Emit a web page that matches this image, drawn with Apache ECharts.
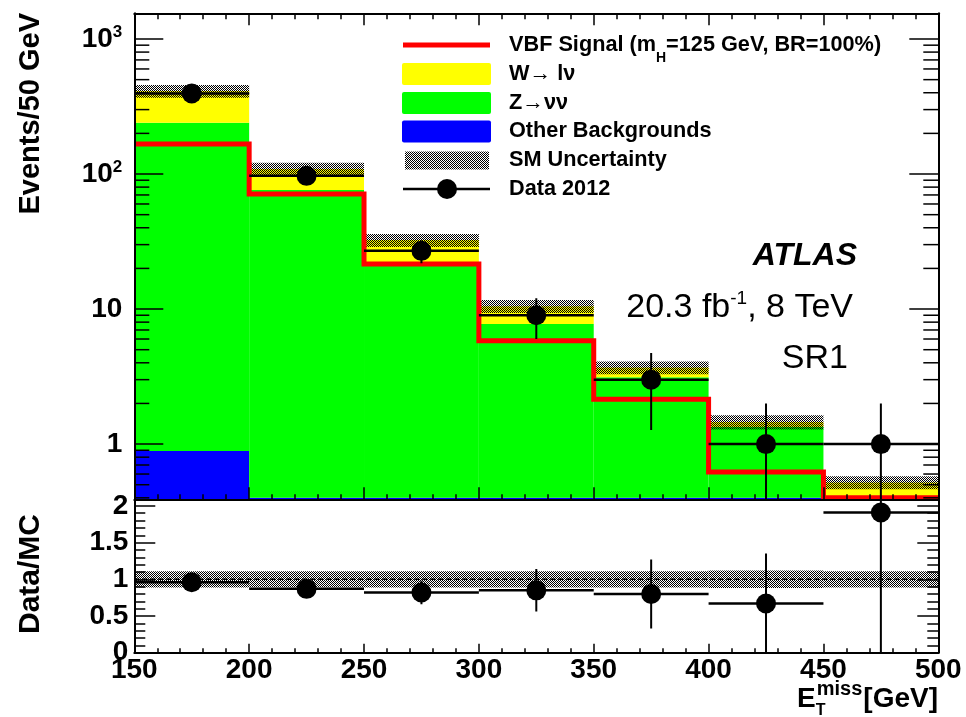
<!DOCTYPE html>
<html><head><meta charset="utf-8">
<script src="https://cdn.jsdelivr.net/npm/echarts@6/dist/echarts.min.js"></script>
<style>html,body{margin:0;padding:0;background:#fff}#c{width:966px;height:717px}</style>
</head><body><div id="c"></div>
<script>
// ---------------- data ----------------
const binEdges      = [150, 200, 250, 300, 350, 400, 450, 500];
const xTickLabels   = ['150', '200', '250', '300', '350', '400', '450', '500'];
const otherBkg      = [0.89, 0.40, 0.40, 0.40, 0.40, 0.40, 0.40];
const zNuNu         = [239, 75.6, 21.9, 7.34, 2.73, 0.94, 0.0];
const wLNu          = [172, 33, 10.1, 2.76, 0.56, 0.12, 0.12];
const smRelUnc      = [0.11, 0.11, 0.11, 0.11, 0.11, 0.12, 0.11];
const vbfSignal     = [167, 71, 21.6, 5.83, 2.15, 0.62, 0.40];
const data2012      = [395, 97, 27, 9, 3, 1, 1];
const data2012Err   = [20, 10, 5.2, 3, 1.73, 1, 1];
const ratioVals     = [0.96, 0.87, 0.82, 0.85, 0.80, 0.67, 1.91];
const ratioErr      = [0.05, 0.09, 0.16, 0.29, 0.47, 0.68, 1.91];
const ratioRelUnc   = [0.11, 0.11, 0.11, 0.11, 0.11, 0.12, 0.11];
const logMajorTicks = [1, 10, 100, 1000];
const logMajorLabels= ['1', '10', '10^2', '10^3'];
const logMinorMult  = [2, 3, 4, 5, 6, 7, 8, 9];
const logDecades    = [0.1, 1, 10, 100, 1000];
const ratioTicks    = [0, 0.5, 1, 1.5, 2];
const ratioTickLabels = ['0', '0.5', '1', '1.5', '2'];

const Y_MIN = 0.39, Y_MAX = 1550;
const R_MIN = 0, R_MAX = 2.09;
const FONT = "'Liberation Sans', Arial, Helvetica, sans-serif";

// ---------------- helpers ----------------
function hatchCanvas() {
  const c = document.createElement('canvas'); c.width = 2; c.height = 2;
  const g = c.getContext('2d'); g.fillStyle = '#000';
  g.fillRect(0, 0, 1, 1); g.fillRect(1, 1, 1, 1);
  return c;
}
const HATCH = { image: hatchCanvas(), repeat: 'repeat' };
const mctx = document.createElement('canvas').getContext('2d');
function tw(t, font) { mctx.font = font; return mctx.measureText(t).width; }

const nBins = binEdges.length - 1;
const stackBlue = [], stackGreen = [], stackYellow = [], hatchTop = [], hatchRatio = [];
const dataPts = [], ratioPts = [];
for (let i = 0; i < nBins; i++) {
  const x0 = binEdges[i], x1 = binEdges[i + 1];
  const b = otherBkg[i], g = b + zNuNu[i], t = g + wLNu[i];
  stackBlue.push([x0, x1, Y_MIN, b]);
  stackGreen.push([x0, x1, b, g]);
  stackYellow.push([x0, x1, g, t]);
  hatchTop.push([x0, x1, t * (1 - smRelUnc[i]), t * (1 + smRelUnc[i])]);
  hatchRatio.push([x0, x1, 1 - ratioRelUnc[i], 1 + ratioRelUnc[i]]);
  const xc = (x0 + x1) / 2;
  dataPts.push([xc, data2012[i], data2012Err[i], x0, x1]);
  ratioPts.push([xc, ratioVals[i], ratioErr[i], x0, x1]);
}
const signalSteps = [];
for (let i = 0; i < nBins; i++) signalSteps.push([binEdges[i], vbfSignal[i]]);
signalSteps.push([binEdges[nBins], vbfSignal[nBins - 1]]);

const logMinor = [];
logDecades.forEach(d => logMinorMult.forEach(m => { const v = d * m; if (v > Y_MIN && v < Y_MAX) logMinor.push([150, v]); }));

function rectRender(fill) {
  return function (params, api) {
    const x0 = api.value(0), x1 = api.value(1), lo = api.value(2), hi = api.value(3);
    if (!(hi > lo)) return null;
    const a = api.coord([x0, hi]), b = api.coord([x1, lo]);
    return { type: 'rect', shape: { x: a[0], y: a[1], width: b[0] - a[0], height: b[1] - a[1] }, style: { fill: fill } };
  };
}
function pointRender(isLog, yFloor) {
  return function (params, api) {
    const xc = api.value(0), v = api.value(1), e = api.value(2), x0 = api.value(3), x1 = api.value(4);
    let lo = v - e; if (lo <= 0 && isLog) lo = yFloor;
    const pc = api.coord([xc, v]), pl = api.coord([x0, v]), pr = api.coord([x1, v]);
    const pt = api.coord([xc, v + e]), pb = api.coord([xc, lo]);
    const ls = { stroke: '#000', lineWidth: 2.5 };
    return { type: 'group', children: [
      { type: 'line', shape: { x1: pl[0], y1: pl[1], x2: pr[0], y2: pr[1] }, style: ls },
      { type: 'line', shape: { x1: pt[0], y1: pt[1], x2: pb[0], y2: pb[1] }, style: { stroke: '#000', lineWidth: 2 } },
      { type: 'circle', shape: { cx: pc[0], cy: pc[1], r: 10 }, style: { fill: '#000' } }
    ] };
  };
}
function minorLogRender(params, api) {
  const v = api.value(1);
  const l = api.coord([150, v]), r = api.coord([500, v]);
  const st = { stroke: '#000', lineWidth: 1.5 };
  return { type: 'group', children: [
    { type: 'line', shape: { x1: l[0], y1: l[1], x2: l[0] + 15, y2: l[1] }, style: st },
    { type: 'line', shape: { x1: r[0] - 15, y1: r[1], x2: r[0], y2: r[1] }, style: st }
  ] };
}

// ---------------- axes ----------------
const tickLine = { color: '#000', width: 1.5 };
const frameLine = { show: true, lineStyle: { color: '#000', width: 2 } };
function xAx(grid, pos, labels, major, minor) {
  return {
    type: 'value', gridIndex: grid, position: pos, min: 150, max: 500, interval: 50, z: 10,
    axisLine: frameLine, splitLine: { show: false },
    axisTick: { show: true, inside: true, length: major, lineStyle: tickLine },
    minorTick: { show: true, splitNumber: 5, length: minor, lineStyle: tickLine },
    axisLabel: labels ? {
      show: true, margin: 4, color: '#000', fontFamily: FONT, fontWeight: 'bold', fontSize: 28, lineHeight: 28,
      formatter: v => { const k = binEdges.findIndex(e => Math.abs(e - v) < 1e-6); return k >= 0 ? xTickLabels[k] : ''; }
    } : { show: false }
  };
}
function logAx(pos, labels) {
  return {
    type: 'log', logBase: 10, gridIndex: 0, position: pos, min: Y_MIN, max: Y_MAX, z: 10,
    axisLine: frameLine, splitLine: { show: false },
    axisTick: { show: true, inside: true, length: 29, lineStyle: tickLine },
    minorTick: { show: false },
    axisLabel: labels ? {
      show: true, margin: 12, color: '#000', showMinLabel: false, showMaxLabel: false,
      formatter: v => {
        const k = logMajorTicks.findIndex(t => Math.abs(Math.log10(v) - Math.log10(t)) < 1e-6);
        if (k < 0) return '';
        const s = logMajorLabels[k].split('^');
        return s.length > 1 ? '{b|' + s[0] + '}{s|' + s[1] + '}' : '{b|' + s[0] + '}';
      },
      rich: {
        b: { fontFamily: FONT, fontWeight: 'bold', fontSize: 28, lineHeight: 30, color: '#000' },
        s: { fontFamily: FONT, fontWeight: 'bold', fontSize: 17, lineHeight: 20, verticalAlign: 'top', color: '#000' }
      }
    } : { show: false }
  };
}
function ratioAx(pos, labels) {
  return {
    type: 'value', gridIndex: 1, position: pos, min: R_MIN, max: R_MAX, interval: 0.5, z: 10,
    axisLine: frameLine, splitLine: { show: false },
    axisTick: { show: true, inside: true, length: 21, lineStyle: tickLine },
    minorTick: { show: true, splitNumber: 5, length: 11, lineStyle: tickLine },
    axisLabel: labels ? {
      show: true, margin: 6, color: '#000', fontFamily: FONT, fontWeight: 'bold', fontSize: 28, lineHeight: 28,
      showMaxLabel: false,
      formatter: v => { const k = ratioTicks.findIndex(t => Math.abs(t - v) < 1e-6); return k >= 0 ? ratioTickLabels[k] : ''; }
    } : { show: false }
  };
}

// ---------------- graphics (legend & texts) ----------------
const legX0 = 403, legX1 = 490, legTx = 509;
const rowsY = [45, 74, 103, 131.5, 160.5, 189];
const LF = 'bold 21.7px ' + FONT;
function txt(x, y, text, font, align, extra) {
  return Object.assign({ type: 'text', x: x, y: y, silent: true,
    style: { text: text, font: font, fill: '#000', textAlign: align || 'left', textVerticalAlign: 'middle' } }, extra || {});
}
const graphics = [];
// legend symbols
graphics.push({ type: 'line', shape: { x1: legX0, y1: rowsY[0], x2: legX1, y2: rowsY[0] }, style: { stroke: '#ff0000', lineWidth: 5 } });
graphics.push({ type: 'rect', shape: { x: 402, y: rowsY[1] - 11, width: 89, height: 22, r: 2 }, style: { fill: '#ffff00' } });
graphics.push({ type: 'rect', shape: { x: 402, y: rowsY[2] - 11, width: 89, height: 22, r: 2 }, style: { fill: '#00ff00' } });
graphics.push({ type: 'rect', shape: { x: 402, y: rowsY[3] - 11, width: 89, height: 22, r: 2 }, style: { fill: '#0000ff' } });
graphics.push({ type: 'rect', shape: { x: 405, y: rowsY[4] - 9, width: 84, height: 18 }, style: { fill: HATCH } });
graphics.push({ type: 'line', shape: { x1: legX0, y1: rowsY[5], x2: legX1, y2: rowsY[5] }, style: { stroke: '#000', lineWidth: 2.5 } });
graphics.push({ type: 'circle', shape: { cx: 447, cy: rowsY[5], r: 10 }, style: { fill: '#000' } });
// legend texts
const t1a = 'VBF Signal (m', t1b = 'H', t1c = '=125 GeV, BR=100%)';
const SF = 'bold 14px ' + FONT;
const w1a = tw(t1a, LF), w1b = tw(t1b, SF);
graphics.push(txt(legTx, rowsY[0], t1a, LF));
graphics.push(txt(legTx + w1a, rowsY[0] + 13, t1b, SF));
graphics.push(txt(legTx + w1a + w1b, rowsY[0], t1c, LF));
graphics.push(txt(legTx, rowsY[1], 'W\u2192 l\u03bd', LF));
graphics.push(txt(legTx, rowsY[2], 'Z\u2192\u03bd\u03bd', LF));
graphics.push(txt(legTx, rowsY[3], 'Other Backgrounds', LF));
graphics.push(txt(legTx, rowsY[4], 'SM Uncertainty', LF));
graphics.push(txt(legTx, rowsY[5], 'Data 2012', LF));
// ATLAS labels
graphics.push(txt(857, 256, 'ATLAS', 'italic bold 32px ' + FONT, 'right'));
const BF = '34px ' + FONT, SUPF = '19px ' + FONT;
const lumA = '20.3 fb', lumB = '-1', lumC = ', 8 TeV';
const wA = tw(lumA, BF), wB = tw(lumB, SUPF), wC = tw(lumC, BF);
const lx = 853 - (wA + wB + wC);
graphics.push(txt(lx, 307.5, lumA, BF));
graphics.push(txt(lx + wA, 299, lumB, SUPF));
graphics.push(txt(lx + wA + wB, 307.5, lumC, BF));
graphics.push(txt(848, 359, 'SR1', BF, 'right'));
// axis titles
graphics.push({ type: 'text', x: 31, y: 13, rotation: Math.PI / 2, silent: true,
  style: { text: 'Events/50 GeV', font: 'bold 29px ' + FONT, fill: '#000', textAlign: 'right', textVerticalAlign: 'middle' } });
graphics.push({ type: 'text', x: 31, y: 514, rotation: Math.PI / 2, silent: true,
  style: { text: 'Data/MC', font: 'bold 30px ' + FONT, fill: '#000', textAlign: 'right', textVerticalAlign: 'middle' } });
// x-axis title  E_T^miss [GeV]
const XF = 'bold 28px ' + FONT;
const wG = tw('[GeV]', XF);
const gx = 938 - wG;
graphics.push(txt(938, 699, '[GeV]', XF, 'right'));
graphics.push(txt(gx - 1, 689, 'miss', 'bold 20px ' + FONT, 'right'));
const wMiss = tw('miss', 'bold 20px ' + FONT);
graphics.push(txt(gx - 1 - wMiss - 1, 711, 'T', 'bold 16px ' + FONT, 'left'));
graphics.push(txt(gx - 1 - wMiss - 1, 699, 'E', XF, 'right'));

// ---------------- chart ----------------
const chart = echarts.init(document.getElementById('c'), null, { renderer: 'canvas' });
chart.setOption({
  animation: false,
  backgroundColor: '#fff',
  grid: [
    { left: 134.3, right: 27.7, top: 13.3, height: 486, outerBoundsMode: 'none', containLabel: false },
    { left: 134.3, right: 27.7, top: 499.3, height: 153.4, outerBoundsMode: 'none', containLabel: false }
  ],
  xAxis: [xAx(0, 'bottom', false, 12, 5), xAx(0, 'top', false, 12, 6), xAx(1, 'bottom', true, 9, 4.5)],
  yAxis: [logAx('left', true), logAx('right', false), ratioAx('left', true), ratioAx('right', false)],
  series: [
    { name: 'Other Backgrounds', type: 'custom', xAxisIndex: 0, yAxisIndex: 0, clip: true, z: 2, silent: true,
      encode: { x: [0, 1], y: [2, 3] }, data: stackBlue, renderItem: rectRender('#0000ff') },
    { name: 'Z\u2192\u03bd\u03bd', type: 'custom', xAxisIndex: 0, yAxisIndex: 0, clip: true, z: 2, silent: true,
      encode: { x: [0, 1], y: [2, 3] }, data: stackGreen, renderItem: rectRender('#00ff00') },
    { name: 'W\u2192 l\u03bd', type: 'custom', xAxisIndex: 0, yAxisIndex: 0, clip: true, z: 2, silent: true,
      encode: { x: [0, 1], y: [2, 3] }, data: stackYellow, renderItem: rectRender('#ffff00') },
    { name: 'SM Uncertainty', type: 'custom', xAxisIndex: 0, yAxisIndex: 0, clip: true, z: 3, silent: true,
      encode: { x: [0, 1], y: [2, 3] }, data: hatchTop, renderItem: rectRender(HATCH) },
    { name: 'VBF Signal', type: 'line', xAxisIndex: 0, yAxisIndex: 0, step: 'end', clip: true, z: 4, silent: true,
      symbol: 'none', lineStyle: { color: '#ff0000', width: 5, join: 'miter' }, data: signalSteps },
    { name: 'Data 2012', type: 'custom', xAxisIndex: 0, yAxisIndex: 0, clip: true, z: 5, silent: true,
      encode: { x: 0, y: 1 }, data: dataPts, renderItem: pointRender(true, Y_MIN / 2) },
    { name: 'minor log ticks', type: 'custom', xAxisIndex: 0, yAxisIndex: 0, clip: false, z: 11, silent: true,
      encode: { x: 0, y: 1 }, data: logMinor, renderItem: minorLogRender },
    { name: 'Ratio uncertainty', type: 'custom', xAxisIndex: 2, yAxisIndex: 2, clip: true, z: 3, silent: true,
      encode: { x: [0, 1], y: [2, 3] }, data: hatchRatio, renderItem: rectRender(HATCH) },
    { name: 'unity', type: 'line', xAxisIndex: 2, yAxisIndex: 2, z: 4, silent: true, symbol: 'none',
      lineStyle: { color: '#000', width: 1.5, type: [5, 3] }, data: [[150, 1], [500, 1]] },
    { name: 'Data/MC', type: 'custom', xAxisIndex: 2, yAxisIndex: 2, clip: true, z: 5, silent: true,
      encode: { x: 0, y: 1 }, data: ratioPts, renderItem: pointRender(false, 0) }
  ],
  graphic: graphics
});
</script></body></html>
